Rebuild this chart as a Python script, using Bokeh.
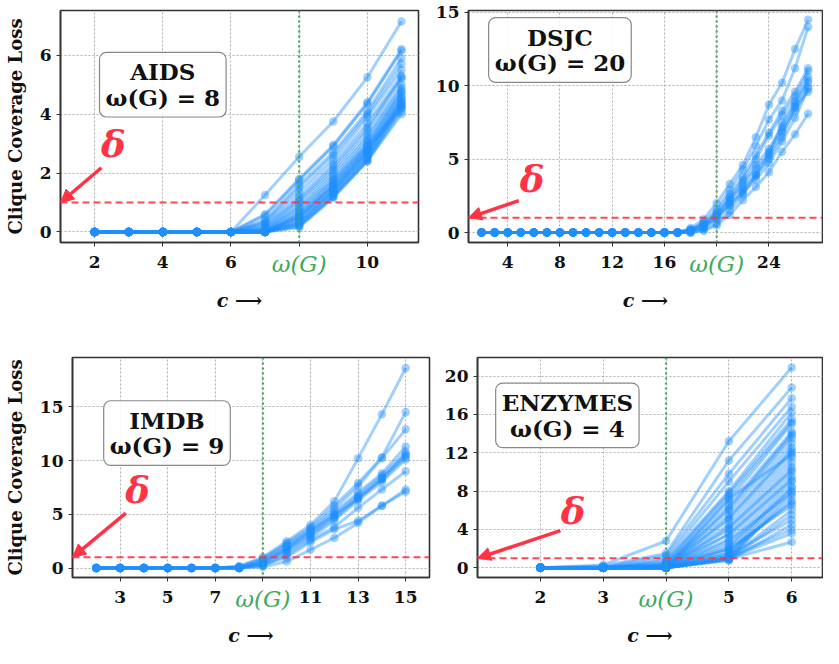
from bokeh.plotting import figure
from bokeh.layouts import column, row
from bokeh.models import (FixedTicker, Span, Label, Arrow, NormalHead, ColumnDataSource,
                          Range1d, LinearAxis)
from bokeh.embed import file_html
from bokeh.resources import INLINE

# ---------------- data ----------------
# AIDS: c = 2..11, loss is 0 for c <= 6; tails are c = 7..11
AIDS_C = list(range(2, 12))
AIDS_OMEGA = 8
AIDS_TAILS = [
    [1.25, 2.55, 3.75, 5.25, 7.15],
    [0.60, 1.80, 2.95, 4.40, 6.20],
    [0.55, 1.75, 2.90, 4.35, 6.15],
    [0.40, 1.60, 2.70, 4.10, 5.90],
    [0.35, 1.50, 2.60, 4.00, 5.70],
    [0.30, 1.35, 2.45, 3.90, 5.50],
    [0.25, 1.20, 2.30, 3.70, 5.30],
    [0.20, 1.10, 2.20, 3.55, 5.25],
    [0.15, 1.05, 2.10, 3.45, 5.20],
    [0.10, 0.95, 2.00, 3.30, 5.00],
    [0.10, 0.85, 1.90, 3.20, 4.90],
    [0.05, 0.80, 1.80, 3.10, 4.80],
    [0.05, 0.70, 1.75, 3.00, 4.75],
    [0.00, 0.65, 1.70, 2.95, 4.70],
    [0.00, 0.60, 1.60, 2.90, 4.60],
    [0.00, 0.55, 1.55, 2.80, 4.55],
    [0.00, 0.50, 1.50, 2.75, 4.50],
    [0.00, 0.45, 1.45, 2.70, 4.45],
    [0.00, 0.40, 1.40, 2.65, 4.40],
    [0.00, 0.35, 1.35, 2.60, 4.35],
    [0.00, 0.30, 1.30, 2.55, 4.30],
    [0.00, 0.25, 1.25, 2.50, 4.25],
    [0.00, 0.20, 1.20, 2.45, 4.20],
    [0.00, 0.20, 1.20, 2.40, 4.10],
    [0.00, 0.15, 1.15, 2.40, 4.00],
    [0.00, 0.50, 1.60, 2.90, 4.30],
    [0.00, 0.30, 1.40, 2.80, 4.20],
]

# DSJC: c = 2..27, loss 0 for c <= 17; tails are c = 18..27
DSJC_C = list(range(2, 28))
DSJC_OMEGA = 20
DSJC_TAILS = [
    [0.30, 0.90, 2.00, 3.30, 4.60, 6.50, 8.70, 10.20, 12.50, 14.50],
    [0.20, 0.70, 1.60, 2.90, 4.30, 5.90, 7.70, 9.00, 11.20, 14.00],
    [0.20, 0.60, 1.40, 2.60, 3.80, 5.30, 6.80, 8.30, 9.60, 11.20],
    [0.15, 0.50, 1.20, 2.40, 3.60, 5.00, 6.60, 8.00, 9.30, 11.00],
    [0.10, 0.50, 1.10, 2.20, 3.40, 4.60, 5.70, 7.20, 8.80, 10.40],
    [0.10, 0.40, 1.00, 2.00, 3.00, 4.00, 5.50, 7.00, 8.60, 10.20],
    [0.05, 0.30, 0.90, 1.80, 2.80, 3.90, 5.20, 6.80, 8.30, 9.90],
    [0.00, 0.20, 0.60, 1.50, 2.60, 3.90, 5.00, 6.50, 8.50, 9.60],
    [0.00, 0.10, 0.50, 1.20, 2.20, 3.10, 4.10, 5.50, 6.70, 8.10],
    [0.00, 0.30, 1.10, 1.90, 2.70, 3.60, 4.70, 6.20, 7.80, 9.80],
    [0.10, 0.60, 1.30, 2.30, 3.20, 4.40, 5.30, 7.50, 9.00, 10.60],
]

# IMDB: c = 2..15, loss 0 for c <= 7; tails are c = 8..15
IMDB_C = list(range(2, 16))
IMDB_OMEGA = 9
IMDB_TAILS = [
    [0.20, 1.00, 2.50, 4.00, 6.20, 10.20, 14.30, 18.60],
    [0.10, 0.90, 2.30, 3.80, 5.80, 7.90, 10.30, 14.50],
    [0.10, 0.80, 2.20, 3.60, 5.50, 7.60, 10.20, 12.90],
    [0.05, 0.70, 2.00, 3.50, 5.20, 7.00, 8.80, 11.30],
    [0.00, 0.60, 1.90, 3.30, 5.00, 6.80, 8.60, 10.80],
    [0.00, 0.50, 1.70, 3.10, 4.80, 6.60, 8.40, 10.50],
    [0.00, 0.40, 1.60, 3.00, 4.60, 6.50, 8.20, 10.30],
    [0.00, 0.30, 1.40, 2.80, 4.40, 6.30, 8.00, 10.10],
    [0.00, 0.20, 1.20, 2.60, 3.80, 5.60, 7.30, 9.00],
    [0.00, 0.10, 0.60, 1.70, 2.80, 4.20, 5.80, 7.10],
    [0.00, 0.30, 1.00, 2.40, 3.60, 4.40, 5.80, 7.30],
    [0.00, 0.50, 1.80, 3.40, 4.90, 6.40, 8.30, 10.60],
]

# ENZYMES: c = 2..6, loss 0 at c = 2; tails are c = 3..6
ENZ_C = [2, 3, 4, 5, 6]
ENZ_OMEGA = 4
ENZ_TAILS = [
    [0.3, 2.8, 13.2, 20.9], [0.2, 1.5, 11.2, 18.8], [0.1, 1.3, 9.8, 17.7],
    [0.0, 1.0, 9.0, 16.8], [0.0, 0.8, 8.0, 16.2], [0.0, 0.6, 7.8, 15.5],
    [0.0, 0.5, 7.5, 15.2], [0.0, 0.4, 7.0, 15.0], [0.0, 0.3, 6.5, 14.2],
    [0.0, 0.3, 6.0, 13.8], [0.0, 0.2, 5.5, 13.5], [0.0, 0.2, 5.0, 13.0],
    [0.0, 0.1, 4.5, 12.5], [0.0, 0.1, 4.0, 12.0], [0.0, 0.1, 3.5, 11.5],
    [0.0, 0.0, 3.0, 11.0], [0.0, 0.0, 2.5, 10.5], [0.0, 0.0, 2.0, 10.0],
    [0.0, 0.0, 1.5, 9.5], [0.0, 0.0, 1.2, 9.0], [0.0, 0.0, 1.0, 8.5],
    [0.0, 0.0, 0.8, 8.0], [0.0, 0.0, 1.0, 7.5], [0.0, 0.0, 1.5, 7.0],
    [0.0, 0.0, 2.0, 6.5], [0.0, 0.0, 1.0, 6.0], [0.0, 0.0, 0.9, 5.5],
    [0.0, 0.0, 1.3, 5.0], [0.0, 0.0, 0.8, 4.5], [0.0, 0.0, 1.1, 4.0],
    [0.0, 0.0, 1.0, 3.6], [0.0, 0.0, 0.9, 2.7], [0.0, 0.0, 3.5, 9.2],
    [0.0, 0.0, 4.2, 10.2], [0.0, 0.0, 5.2, 12.2], [0.0, 0.0, 6.2, 14.0],
    [0.0, 0.0, 7.2, 11.8], [0.0, 0.1, 2.2, 8.3], [0.0, 0.0, 1.8, 6.8],
    [0.0, 0.0, 2.8, 7.8],
]

DELTA = 1.0

AIDS_XTICKS = [2, 4, 6, 8, 10]
AIDS_YTICKS = [0, 2, 4, 6]
DSJC_XTICKS = [4, 8, 12, 16, 20, 24]
DSJC_YTICKS = [0, 5, 10, 15]
IMDB_XTICKS = [3, 5, 7, 9, 11, 13, 15]
IMDB_YTICKS = [0, 5, 10, 15]
ENZ_XTICKS = [2, 3, 4, 5, 6]
ENZ_YTICKS = [0, 4, 8, 12, 16, 20]

# ---------------- style ----------------
BLUE = "#1E90FF"
RED = "#FF3344"
GREEN = "#3DAA5C"
SERIF = "DejaVu Serif"


def panel(cs, tails, omega, name, xr, yr, xticks, yticks,
          box_xy, delta_xy, tail_xy, width, height, borders, ylabel):
    bl, br, bt, bb = borders
    p = figure(width=width, height=height, x_range=Range1d(*xr), y_range=Range1d(*yr),
               output_backend="svg", toolbar_location=None,
               min_border_left=bl, min_border_right=br, min_border_top=bt, min_border_bottom=bb)
    p.background_fill_color = "white"
    p.outline_line_color = "#333333"
    p.outline_line_width = 1.6
    p.outline_line_alpha = 1.0

    p.xaxis.ticker = FixedTicker(ticks=xticks)
    p.yaxis.ticker = FixedTicker(ticks=yticks)
    p.xaxis.major_label_overrides = {omega: " "}
    for ax in (p.xaxis[0], p.yaxis[0]):
        ax.axis_line_color = "#333333"
        ax.axis_line_width = 1.6
        ax.major_tick_line_color = "#333333"
        ax.major_tick_out = 4
        ax.major_tick_in = 0
        ax.minor_tick_line_color = None
        ax.major_label_text_font = SERIF
        ax.major_label_text_font_style = "bold"
        ax.major_label_text_font_size = "17px"
        ax.major_label_text_color = "#111111"
        ax.major_label_standoff = 5
    if ylabel:
        p.yaxis.axis_label = "Clique Coverage Loss"
        p.yaxis.axis_label_text_font = SERIF
        p.yaxis.axis_label_text_font_style = "bold"
        p.yaxis.axis_label_text_font_size = "18px"
        p.yaxis.axis_label_text_color = "#111111"
        p.yaxis.axis_label_standoff = 11

    # second bottom axis: only the green omega(G) tick label, pulled up next to the others
    om_axis = LinearAxis(ticker=FixedTicker(ticks=[omega]),
                         major_label_overrides={omega: "\u03c9(G)"},
                         axis_line_color=None, major_tick_line_color=None,
                         minor_tick_line_color=None, major_tick_out=0, major_tick_in=0,
                         major_label_standoff=-24,
                         major_label_text_color=GREEN, major_label_text_font=SERIF,
                         major_label_text_font_style="italic",
                         major_label_text_font_size="23px",
                         axis_label="c \u27f6", axis_label_text_font=SERIF,
                         axis_label_text_font_style="bold italic",
                         axis_label_text_font_size="19px",
                         axis_label_text_color="#111111", axis_label_standoff=9)
    p.add_layout(om_axis, "below")

    p.grid.grid_line_color = "#b0b0b0"
    p.grid.grid_line_dash = "2 2"
    p.grid.grid_line_width = 1

    xs, ys = [], []
    for t in tails:
        xs.append(cs)
        ys.append([0.0] * (len(cs) - len(t)) + t)
    src = ColumnDataSource(dict(xs=xs, ys=ys))
    p.multi_line("xs", "ys", source=src, line_color=BLUE, line_alpha=0.42, line_width=3)
    px = [x for row_ in xs for x in row_]
    py = [y for row_ in ys for y in row_]
    p.scatter(px, py, size=8.5, fill_color=BLUE, line_color=BLUE, fill_alpha=0.42, line_alpha=0.0)

    p.add_layout(Span(location=omega, dimension="height", line_color=GREEN,
                      line_dash="2 3", line_width=2.2))
    p.add_layout(Span(location=DELTA, dimension="width", line_color=RED,
                      line_dash="7 4", line_width=2, line_alpha=0.9))

    p.add_layout(Arrow(end=NormalHead(size=13, fill_color=RED, line_color=RED),
                       x_start=tail_xy[0], y_start=tail_xy[1], x_end=xr[0], y_end=DELTA,
                       line_color=RED, line_width=3.5))
    p.add_layout(Label(x=delta_xy[0], y=delta_xy[1], text="\u03b4", text_color=RED,
                       text_font=SERIF, text_font_style="bold italic", text_font_size="37px",
                       text_align="center", text_baseline="middle"))
    p.add_layout(Label(x=box_xy[0], y=box_xy[1], text=f"{name}\n\u03c9(G) = {omega}",
                       text_font=SERIF, text_font_style="bold", text_font_size="23px",
                       text_color="#111111", text_align="center", text_baseline="middle",
                       text_line_height=0.95,
                       background_fill_color="white", background_fill_alpha=0.85,
                       border_line_color="#888888", border_line_width=1.2,
                       border_radius=7, padding=6))
    return p


p1 = panel(AIDS_C, AIDS_TAILS, AIDS_OMEGA, "AIDS", (1.0, 11.5), (-0.36, 7.52),
           AIDS_XTICKS, AIDS_YTICKS, (4.0, 5.0), (2.55, 3.0), (2.2, 2.18),
           428, 320, (60, 10, 6, 78), True)
p2 = panel(DSJC_C, DSJC_TAILS, DSJC_OMEGA, "DSJC", (1.0, 28.1), (-0.68, 15.13),
           DSJC_XTICKS, DSJC_YTICKS, (8.0, 12.44), (5.87, 3.63), (4.85, 2.17),
           395, 320, (40, 1, 10, 78), False)
p3 = panel(IMDB_C, IMDB_TAILS, IMDB_OMEGA, "IMDB", (1.0, 16.0), (-0.88, 19.58),
           IMDB_XTICKS, IMDB_YTICKS, (4.97, 12.55), (3.73, 7.25), (3.24, 5.1),
           440, 328, (72, 11, 28, 66), True)
p4 = panel(ENZ_C, ENZ_TAILS, ENZ_OMEGA, "ENZYMES", (1.0, 6.49), (-1.01, 21.94),
           ENZ_XTICKS, ENZ_YTICKS, (2.43, 15.9), (2.52, 5.95), (2.32, 3.88),
           383, 328, (37, 1, 37, 63), False)

layout = column(row(p1, p2, spacing=0), row(p3, p4, spacing=0), spacing=0)
open("out.html", "w").write(file_html(layout, INLINE))
